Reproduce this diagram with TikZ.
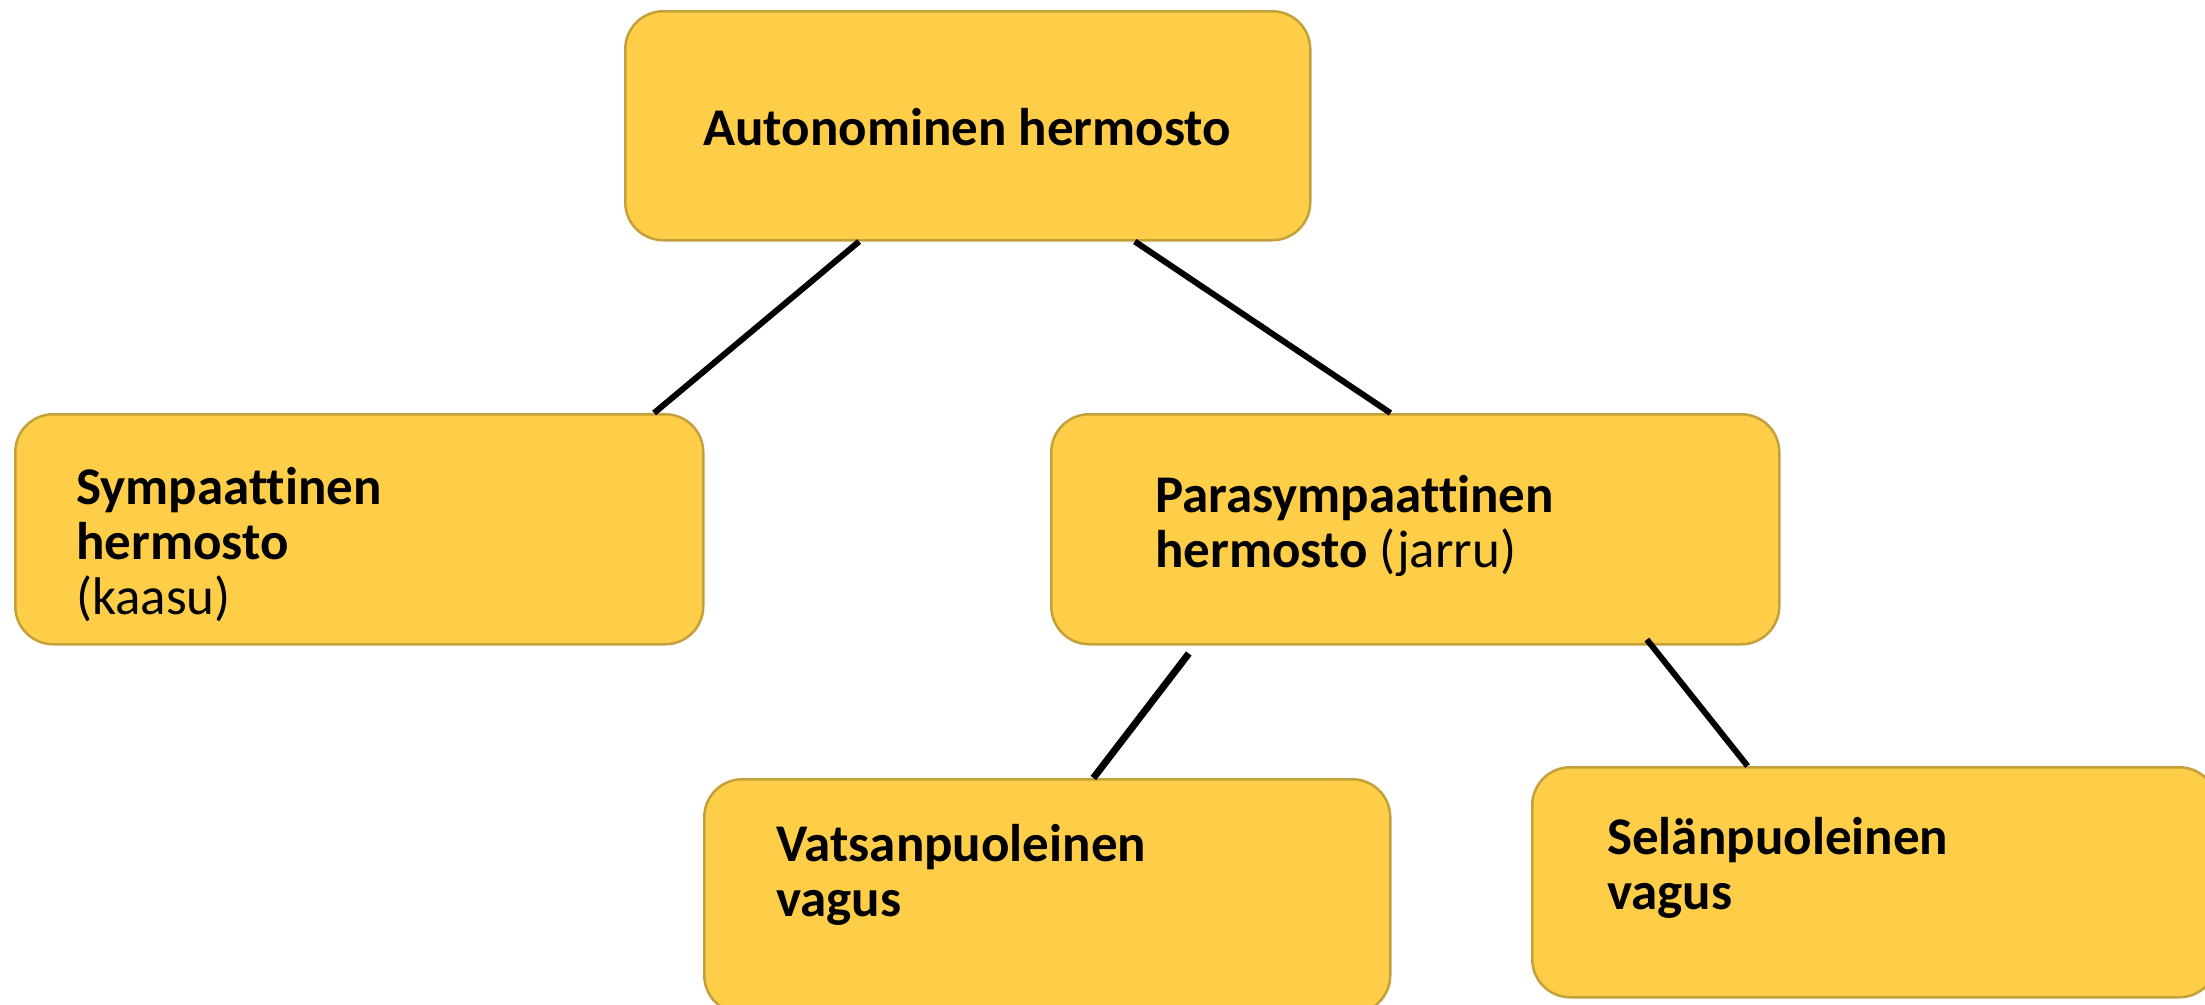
\documentclass[tikz,border=0pt]{standalone}
\usepackage{fontspec}
\setmainfont{Carlito}[Ligatures=NoCommon]
\usetikzlibrary{calc}
\definecolor{boxfill}{RGB}{254,206,72}
\definecolor{boxline}{RGB}{196,160,58}
\newcommand{\linestack}[1]{\vtop{\halign{##\hfil\cr#1\crcr}}}
\begin{document}
\begin{tikzpicture}[x=1pt,y=-1pt,
  box/.style={draw=boxline, line width=2.5pt, fill=boxfill, rounded corners=38pt, anchor=north west, inner sep=0pt},
  lbl/.style={font=\fontsize{53}{55}\selectfont\bfseries, inner sep=0pt},
  conn/.style={line width=6pt, draw=black}]
\useasboundingbox (0,0) rectangle (2205,1004);
% boxes
\node[box, minimum width=685pt, minimum height=229pt] (top) at (624,10) {};
\node[box, minimum width=688pt, minimum height=230pt] (sym) at (14,413) {};
\node[box, minimum width=728pt, minimum height=230pt] (para) at (1050,413) {};
\node[box, minimum width=686pt, minimum height=234pt] (vats) at (703,778) {};
\node[box, minimum width=685pt, minimum height=230pt] (sel) at (1531,766) {};
% texts
\node[lbl, anchor=base] (ttop) at (967,145) {Autonominen hermosto};
\node[lbl, anchor=base west] (tsym) at (76,504) {\linestack{Sympaattinen\cr hermosto\cr \mdseries(kaasu)}};
\node[lbl, anchor=base west] (tpara) at (1155,512) {\linestack{Parasympaattinen\cr hermosto \mdseries(jarru)}};
\node[lbl, anchor=base west] (tvats) at (776,861) {\linestack{Vatsanpuoleinen\cr vagus}};
\node[lbl, anchor=base west] (tsel) at (1607,854) {\linestack{Selänpuoleinen\cr vagus}};
% connectors
\draw[conn] ($(top.south west)!0.342!(top.south east)$) -- ($(sym.north west)!0.927!(sym.north east)$);
\draw[conn] ($(top.south west)!0.743!(top.south east)$) -- ($(para.north west)!0.466!(para.north east)$);
\draw[conn, line width=7pt] ($(para.south west)!0.190!(para.south east)+(0,8)$) -- ($(vats.north west)!0.567!(vats.north east)$);
\draw[conn] ($(para.south west)!0.817!(para.south east)+(0,-6)$) -- ($(sel.north west)!0.315!(sel.north east)$);
\end{tikzpicture}
\end{document}
